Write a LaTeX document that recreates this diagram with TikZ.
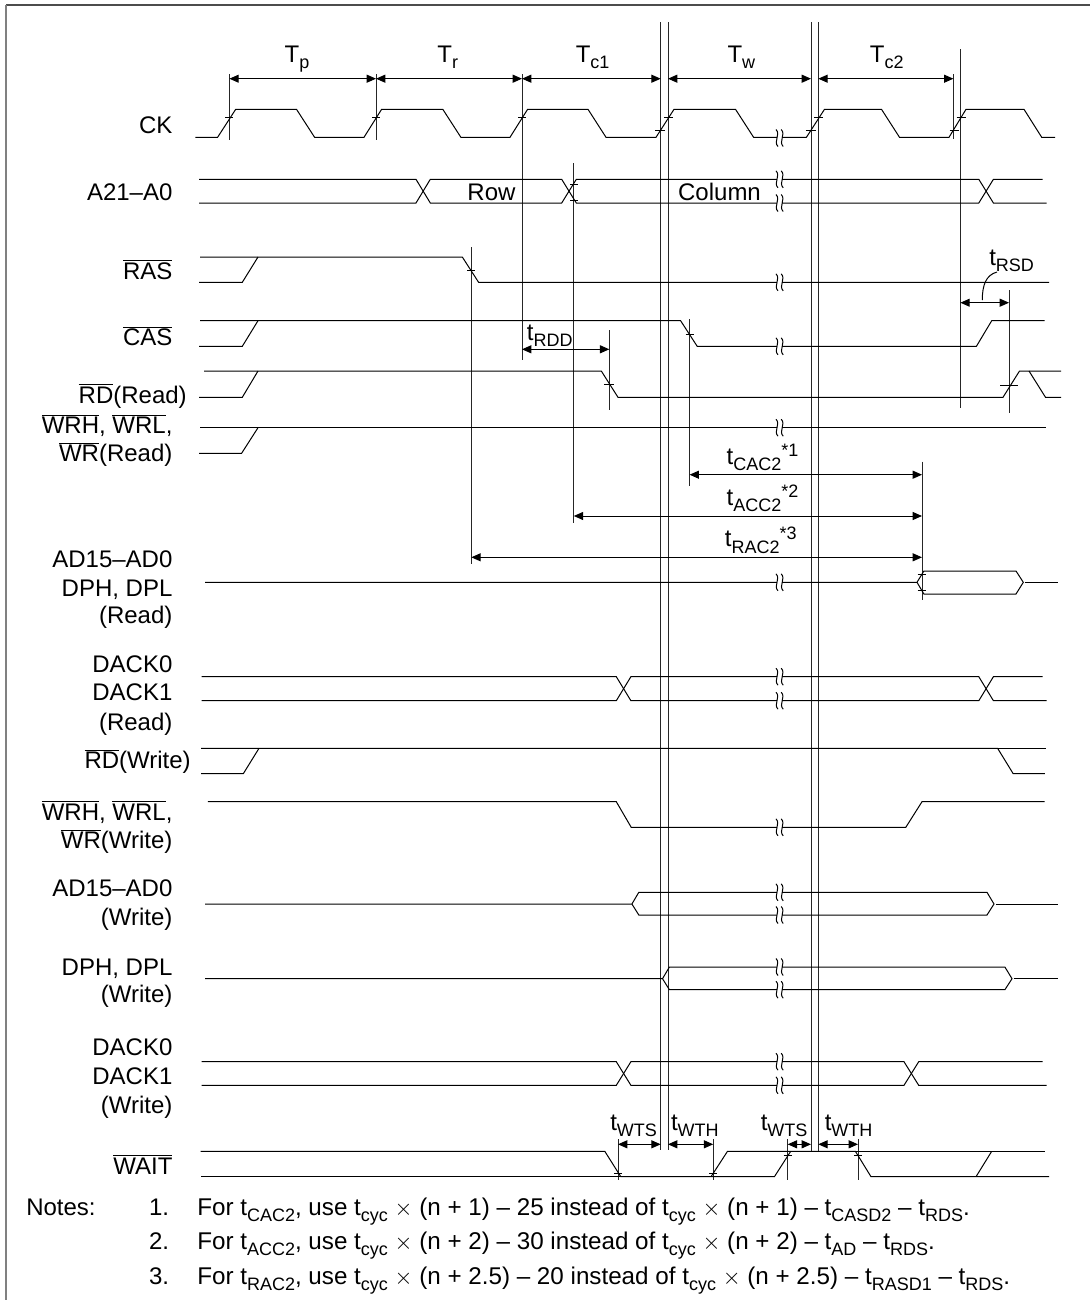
\documentclass[tikz,border=0pt]{standalone}
\usepackage{fontspec}
\setmainfont{Liberation Sans}
\usetikzlibrary{arrows.meta}
\newcommand{\lowtxt}[1]{\raisebox{-0.27em}{\fontsize{13.5}{13.5}\selectfont #1}}
\newcommand{\hightxt}[1]{\raisebox{0.3em}{\fontsize{13.5}{13.5}\selectfont #1}}
\newcommand{\barred}[1]{$\overline{\mbox{#1}}$}

\begin{document}
\begin{tikzpicture}[
  x=0.75pt, y=-0.75pt,
  sig/.style={draw=black, line width=0.75pt},
  edgeline/.style={draw=black!85, line width=0.75pt},
  dim/.style={draw=black, line width=0.75pt, {Triangle[length=7pt,width=6pt]}-{Triangle[length=7pt,width=6pt]}},
  lbl/.style={anchor=base east, inner sep=0pt, font=\fontsize{18}{21}\selectfont},
  mid/.style={anchor=base, inner sep=0pt, font=\fontsize{18}{21}\selectfont},
  txt/.style={anchor=base west, inner sep=0pt, font=\fontsize{18}{21}\selectfont},
  notetxt/.style={anchor=base west, inner sep=0pt, font=\fontsize{18.15}{21}\selectfont},
  brk/.pic={
    \fill[white] (-2.6,-6) rectangle (2.6,6);
    \foreach \dx in {-2.6,2.6}
      \draw[sig] (\dx-1,-8.5) .. controls (\dx+4,-3.5) and (\dx-4,3.5) .. (\dx+1,8.5);
  }
]
  \useasboundingbox (0,0) rectangle (1090,1300);

  % frame
  \draw[black!70, line width=1.3pt] (6,5) -- (1090,5);
  \draw[black!50, line width=1.5pt] (6,5) -- (6,1300);

  % edges
  \foreach \xx/\ya/\yb in {229.4/74/140, 376/74/140, 522/74/360, 660.7/22.3/1150, 668/22.3/1150,
      811/22.3/1151.3, 818.3/22.3/1151.3, 953.4/74/139.3, 960.4/49.3/408.3, 573.8/163.3/523.3,
      471.3/247.3/564.3, 689.6/319.3/485.7, 609.3/330/410, 1009/290/412.7, 922/461.7/600,
      618/1139/1180, 713.2/1139/1180, 787.7/1139/1180, 858/1139/1180}
    \draw[edgeline] (\xx,\ya) -- (\xx,\yb);

  % signals
  \draw[sig] (195.3,137.3) -- (217.6,137.3) -- (235.7,109.3) -- (296.5,109.3) -- (314.6,137.3) -- (364,137.3)
    -- (381.6,109.3) -- (442.8,109.3) -- (460.9,137.3) -- (510,137.3) -- (527.6,109.3) -- (588,109.3)
    -- (606,137.3) -- (656,137.3) -- (674,109.3) -- (735.5,109.3) -- (753.6,137.3) -- (806.4,137.3)
    -- (824.5,109.3) -- (881.5,109.3) -- (899.5,137.3) -- (949,137.3) -- (966,109.3) -- (1024,109.3)
    -- (1041.7,137.3) -- (1055,137.3);
  \draw[sig] (199,179.3) -- (416,179.3) -- (430.3,203) -- (561.7,203) -- (576.3,179.3) -- (978.8,179.3) -- (993.4,203) -- (1046.6,203);
  \draw[sig] (199,203) -- (416,203) -- (430.3,179.3) -- (561.7,179.3) -- (576.3,203) -- (978.8,203) -- (993.4,179.3) -- (1042.7,179.3);
  \draw[sig] (200,257) -- (462.3,257) -- (478.6,282.3) -- (1049,282.3);
  \draw[sig] (199,282.3) -- (242.3,282.3) -- (258,257);
  \draw[sig] (200,320.7) -- (680.6,320.7) -- (697.2,346.3) -- (976.4,346.3) -- (991.7,320.7) -- (1044.5,320.7);
  \draw[sig] (199,346.3) -- (242.3,346.3) -- (258,320.7);
  \draw[sig] (204,371) -- (601.3,371) -- (618,397.3) -- (1003,397.3) -- (1019.5,371) -- (1061,371);
  \draw[sig] (199,397.3) -- (242.3,397.3) -- (258,371);
  \draw[sig] (1029,371) -- (1045.5,397.3) -- (1061,397.3);
  \draw[sig] (200,427.7) -- (1045.5,427.7);
  \draw[sig] (199,453.3) -- (241.6,453.3) -- (258,427.7);
  \draw[sig] (205,582.3) -- (917,582.3) -- (923.9,571) -- (1016,571) -- (1023.3,582.3) -- (1016,594) -- (923.9,594) -- (917,582.3);
  \draw[sig] (1024.7,582.3) -- (1057.7,582.3);
  \draw[sig] (201.6,676.7) -- (616.3,676.7) -- (630.9,700.7) -- (978.8,700.7) -- (993.4,676.7) -- (1042.7,676.7);
  \draw[sig] (201.6,700.7) -- (616.3,700.7) -- (630.9,676.7) -- (978.8,676.7) -- (993.4,700.7) -- (1046.6,700.7);
  \draw[sig] (201,748.3) -- (997.6,748.3) -- (1013.2,773.7) -- (1044.8,773.7);
  \draw[sig] (997.6,748.3) -- (1045.9,748.3);
  \draw[sig] (201,773.7) -- (243.3,773.7) -- (259,748.3);
  \draw[sig] (207.9,801.7) -- (616.3,801.7) -- (631.2,827.3) -- (905.8,827.3) -- (922,801.7) -- (1044.5,801.7);
  \draw[sig] (205,904) -- (631.9,904) -- (638.8,892.3) -- (987,892.3) -- (994,904) -- (987,915) -- (638.8,915) -- (631.9,904);
  \draw[sig] (995.8,904) -- (1057.7,904);
  \draw[sig] (205,978.7) -- (662.5,978.7) -- (669.4,967) -- (1004.9,967) -- (1012,978.7) -- (1004.9,989.7) -- (669.4,989.7) -- (662.5,978.7);
  \draw[sig] (1013.5,978.7) -- (1057.7,978.7);
  \draw[sig] (201.6,1061.7) -- (616.3,1061.7) -- (630.9,1085.3) -- (904,1085.3) -- (918.7,1061.7) -- (1042.7,1061.7);
  \draw[sig] (201.6,1085.3) -- (616.3,1085.3) -- (630.9,1061.7) -- (904,1061.7) -- (918.7,1085.3) -- (1046.6,1085.3);
  \draw[sig] (200.6,1151.3) -- (604.8,1151.3) -- (620.8,1176.7) -- (774.4,1176.7) -- (790.7,1151.3);
  \draw[sig] (201,1176.7) -- (620.8,1176.7);
  \draw[sig] (711,1176.7) -- (727.5,1151.3) -- (855.4,1151.3) -- (871,1176.7) -- (1049,1176.7);
  \draw[sig] (855.4,1151.3) -- (1044.5,1151.3);
  \draw[sig] (976,1176.7) -- (991.7,1151.3);

  % ticks on the edges
  \foreach \xx/\yy/\hw in {229.4/117.3/4, 376/117.3/4, 522/117.3/4, 660.3/130/5, 668.5/117.3/4.5,
      810.8/130/5, 818.7/117.3/4.5, 954/130/4.5, 961/117.3/4.5, 574/184/4, 574/200/4, 471.3/270/4,
      689.6/334/4, 609.3/384/5, 1009/385/9, 921.6/574.3/4, 921.6/590.7/4,
      618/1173.3/4, 713.2/1173.3/4, 787.6/1155/4, 857.8/1155/4}
    \draw[sig] ({\xx-\hw},\yy) -- ({\xx+\hw},\yy);

  % breaks
  \foreach \yy in {138,179.3,203,282.3,346.3,427.7,582.3,676.7,700.7,827.3,892.3,915,967,989.7,1061.7,1085.3}
    \pic at (779.6,\yy) {brk};

  % measuring points
  \foreach \name/\xx/\yy in {pa/229.4/78.7, pb/376/78.7, pc/522/78.7, pd/660.7/78.7, pe/668/78.7, pf/811/78.7,
      pg/818.3/78.7, ph/953.4/78.7, rdda/522/349.3, rddb/609.3/349.3, rsda/960.4/302.7, rsdb/1009/302.7,
      caca/689.6/474.7, cacb/922/474.7, acca/573.8/516, accb/922/516, raca/471.3/557.3, racb/922/557.3,
      wa/618/1144.3, wb/660.7/1144.3, wc/668/1144.3, wd/713.2/1144.3, we/787.7/1144.3, wf/811/1144.3,
      wg/818.3/1144.3, wh/858/1144.3, rsdfoot/982.3/300, rsdtip/997/272}
    \coordinate (\name) at (\xx,\yy);

  \draw[dim] (pa) -- (pb);
  \draw[dim] (pb) -- (pc);
  \draw[dim] (pc) -- (pd);
  \draw[dim] (pe) -- (pf);
  \draw[dim] (pg) -- (ph);
  \draw[dim] (rdda) -- (rddb);
  \draw[dim] (rsda) -- (rsdb);
  \draw[dim] (caca) -- (cacb);
  \draw[dim] (acca) -- (accb);
  \draw[dim] (raca) -- (racb);
  \draw[dim] (wa) -- (wb);
  \draw[dim] (wc) -- (wd);
  \draw[dim] (we) -- (wf);
  \draw[dim] (wg) -- (wh);
  \draw[sig] (rsdfoot) .. controls (982.3,285) and (986,275) .. (rsdtip);

  % phases
  \node[mid] (tp) at (297,62.3) {T\lowtxt{p}};
  \node[mid] (tr) at (447.7,62.3) {T\lowtxt{r}};
  \node[mid] (tc1) at (592.6,62.3) {T\lowtxt{c1}};
  \node[mid] (tw) at (741.4,62.3) {T\lowtxt{w}};
  \node[mid] (tc2) at (886.7,62.3) {T\lowtxt{c2}};

  % signal names
  \node[lbl] (ck) at (172.7,133.3) {CK};
  \node[lbl] (addr) at (172.7,200) {A21–A0};
  \node[lbl] (ras) at (172.7,279.3) {\barred{RAS}};
  \node[lbl] (cas) at (172.7,345.7) {\barred{CAS}};
  \node[lbl] (rdr) at (187,403) {\barred{RD}(Read)};
  \node[lbl] (wrra) at (172.7,433.3) {\barred{WRH}, \barred{WRL},};
  \node[lbl] (wrrb) at (172.7,461.7) {\barred{WR}(Read)};
  \node[lbl] (adra) at (172.7,567.7) {AD15–AD0};
  \node[lbl] (adrb) at (172.7,596) {DPH, DPL};
  \node[lbl] (adrc) at (172.7,623.3) {(Read)};
  \node[lbl] (dackra) at (172.7,672.3) {DACK0};
  \node[lbl] (dackrb) at (172.7,700.7) {DACK1};
  \node[lbl] (dackrc) at (172.7,730) {(Read)};
  \node[lbl] (rdw) at (191,768.3) {\barred{RD}(Write)};
  \node[lbl] (wrwa) at (172.7,820) {\barred{WRH}, \barred{WRL},};
  \node[lbl] (wrwb) at (172.7,848.3) {\barred{WR}(Write)};
  \node[lbl] (adwa) at (172.7,896.7) {AD15–AD0};
  \node[lbl] (adwb) at (172.7,925) {(Write)};
  \node[lbl] (dpwa) at (172.7,975) {DPH, DPL};
  \node[lbl] (dpwb) at (172.7,1002.7) {(Write)};
  \node[lbl] (dackwa) at (172.7,1055.7) {DACK0};
  \node[lbl] (dackwb) at (172.7,1084) {DACK1};
  \node[lbl] (dackwc) at (172.7,1113.3) {(Write)};
  \node[lbl] (wait) at (172.7,1174) {\barred{WAIT}};

  % bus values
  \node[mid] (row) at (491.5,200) {Row};
  \node[mid] (col) at (719.5,200) {Column};

  % timings
  \node[txt] (trdd) at (526.6,340) {t\lowtxt{RDD}};
  \node[txt] (trsd) at (989,265) {t\lowtxt{RSD}};
  \node[txt] (tcac) at (726.4,464) {t\lowtxt{CAC2}\hightxt{*1}};
  \node[txt] (tacc) at (726.4,505) {t\lowtxt{ACC2}\hightxt{*2}};
  \node[txt] (trac) at (724.7,546.7) {t\lowtxt{RAC2}\hightxt{*3}};
  \node[txt] (twtsa) at (610,1130) {t\lowtxt{WTS}};
  \node[txt] (twtha) at (670.8,1130) {t\lowtxt{WTH}};
  \node[txt] (twtsb) at (760.5,1130) {t\lowtxt{WTS}};
  \node[txt] (twthb) at (824.5,1130) {t\lowtxt{WTH}};

  % notes
  \node[txt] (notes) at (26,1215) {Notes:};
  \node[txt] (numa) at (148.8,1215) {1.};
  \node[txt] (numb) at (148.8,1249.3) {2.};
  \node[txt] (numc) at (148.8,1284) {3.};
  \node[notetxt] (notea) at (197,1215) {For t\lowtxt{CAC2}, use t\lowtxt{cyc} $\times$ (n + 1) – 25 instead of t\lowtxt{cyc} $\times$ (n + 1) – t\lowtxt{CASD2} – t\lowtxt{RDS}.};
  \node[notetxt] (noteb) at (197,1249.3) {For t\lowtxt{ACC2}, use t\lowtxt{cyc} $\times$ (n + 2) – 30 instead of t\lowtxt{cyc} $\times$ (n + 2) – t\lowtxt{AD} – t\lowtxt{RDS}.};
  \node[notetxt] (notec) at (197,1284) {For t\lowtxt{RAC2}, use t\lowtxt{cyc} $\times$ (n + 2.5) – 20 instead of t\lowtxt{cyc} $\times$ (n + 2.5) – t\lowtxt{RASD1} – t\lowtxt{RDS}.};
\end{tikzpicture}
\end{document}
